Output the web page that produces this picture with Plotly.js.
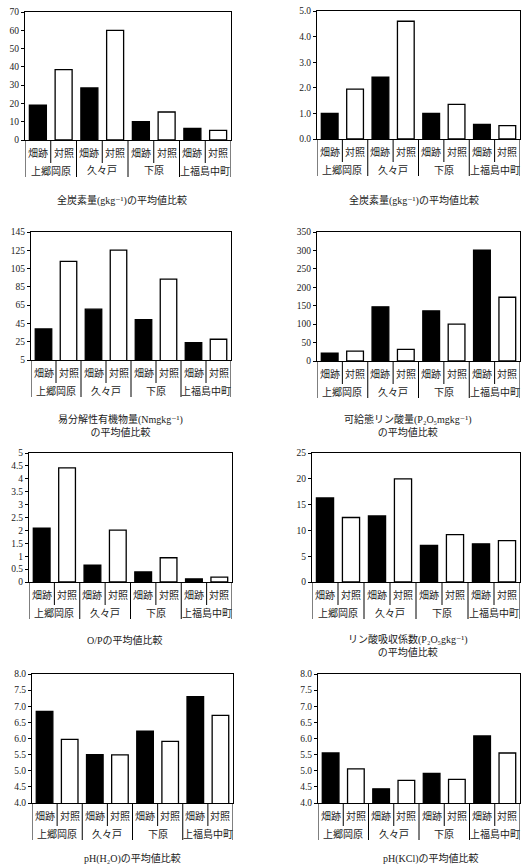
<!DOCTYPE html>
<html><head><meta charset="utf-8">
<script src="https://cdn.plot.ly/plotly-3.0.1.min.js"></script>
<style>html,body{margin:0;padding:0;background:#fff}</style>
</head><body><div id="chart" style="width:521px;height:864px"></div>
<script>
// ---- data ----
const groups = ['上郷岡原', '久々戸', '下原', '上福島中町'];
const subLabels = ['畑跡', '対照'];

const carbonField = [19.0, 28.5, 10.0, 6.3];
const carbonControl = [38.5, 60.0, 15.3, 5.3];

const carbon2Field = [1.0, 2.42, 1.0, 0.57];
const carbon2Control = [1.95, 4.6, 1.35, 0.52];

const organicNField = [39, 60.6, 49.2, 24];
const organicNControl = [112.8, 125.2, 93.4, 27.7];

const availPField = [21, 147, 136, 301];
const availPControl = [27, 31.6, 100, 173];

const opRatioField = [2.09, 0.65, 0.39, 0.12];
const opRatioControl = [4.42, 2.01, 0.94, 0.19];

const pAbsorbField = [16.3, 12.8, 7.1, 7.4];
const pAbsorbControl = [12.5, 20.0, 9.2, 8.0];

const phH2OField = [6.84, 5.50, 6.23, 7.30];
const phH2OControl = [5.97, 5.49, 5.91, 6.72];

const phKClField = [5.55, 4.44, 4.92, 6.08];
const phKClControl = [5.06, 4.70, 4.73, 5.55];

const panelTitles = [
  '全炭素量(gkg⁻¹)の平均値比較',
  '全炭素量(gkg⁻¹)の平均値比較',
  '易分解性有機物量(Nmgkg⁻¹)<br>の平均値比較',
  '可給態リン酸量(P₂O₅mgkg⁻¹)<br>の平均値比較',
  'O/Pの平均値比較',
  'リン酸吸収係数(P₂O₅gkg⁻¹)<br>の平均値比較',
  'pH(H₂O)の平均値比較',
  'pH(KCl)の平均値比較'
];

// ---- layout constants (pixels) ----
const W = 521, H = 864;
const panels = [
  {f: carbonField, c: carbonControl, box: [25, 231, 12, 140], range: [0, 70], tick0: 0, dtick: 10, fmt: '', title: [122, 200]},
  {f: carbon2Field, c: carbon2Control, box: [317, 520, 11, 139], range: [0, 5], tick0: 0, dtick: 1, fmt: '.1f', title: [414, 200]},
  {f: organicNField, c: organicNControl, box: [31, 231, 232, 360], range: [5, 145], tick0: 5, dtick: 20, fmt: '', title: [120, 425]},
  {f: availPField, c: availPControl, box: [317, 520, 232, 361], range: [0, 350], tick0: 0, dtick: 50, fmt: '', title: [407, 425]},
  {f: opRatioField, c: opRatioControl, box: [29, 232, 453, 582], range: [0, 5], tick0: 0, dtick: 0.5, fmt: '', title: [125, 640]},
  {f: pAbsorbField, c: pAbsorbControl, box: [312, 520, 453, 582], range: [0, 25], tick0: 0, dtick: 5, fmt: '', title: [408, 645]},
  {f: phH2OField, c: phH2OControl, box: [32, 233, 674, 803], range: [4, 8], tick0: 4, dtick: 0.5, fmt: '.1f', title: [132, 858]},
  {f: phKClField, c: phKClControl, box: [318, 520, 674, 803], range: [4, 8], tick0: 4, dtick: 0.5, fmt: '.1f', title: [431, 858]}
];

const FONT = 'Liberation Serif, "Noto Sans CJK JP", "DejaVu Serif", serif';
const TXT = '#1a1a1a';
const traces = [], annotations = [], shapes = [];
const layout = {
  width: W, height: H,
  margin: {l: 0, r: 0, t: 0, b: 0},
  paper_bgcolor: '#fff', plot_bgcolor: '#fff',
  showlegend: false, barmode: 'overlay',
  font: {family: FONT, size: 10, color: TXT}
};

const py = v => 1 - v / H;
const px = v => v / W;

panels.forEach((p, k) => {
  const n = k + 1;
  const xa = 'x' + (n === 1 ? '' : n), ya = 'y' + (n === 1 ? '' : n);
  const xk = 'xaxis' + (n === 1 ? '' : n), yk = 'yaxis' + (n === 1 ? '' : n);
  const [l, r, t, b] = p.box;

  // bars: field (black) at even index, control (white) at odd index
  const xs = [], ys = [], cols = [];
  groups.forEach((g, gi) => {
    xs.push(gi * 2); ys.push(p.f[gi]); cols.push('#000');
    xs.push(gi * 2 + 1); ys.push(p.c[gi]); cols.push('#fff');
  });
  traces.push({
    type: 'bar', x: xs, y: ys, xaxis: xa, yaxis: ya, width: 0.66,
    marker: {color: cols, line: {color: '#000', width: 1.3}},
    hoverinfo: 'y'
  });

  layout[xk] = {
    domain: [px(l), px(r)], anchor: ya, range: [-0.5, 7.5],
    showticklabels: false, ticks: '', showgrid: false, zeroline: false,
    showline: true, mirror: true, linecolor: '#000', linewidth: 1, fixedrange: true
  };
  layout[yk] = {
    domain: [py(b), py(t)], anchor: xa, range: p.range,
    tick0: p.tick0, dtick: p.dtick, tickformat: p.fmt,
    ticks: 'outside', ticklen: 3, tickcolor: '#000',
    showgrid: false, zeroline: false,
    showline: true, mirror: true, linecolor: '#000', linewidth: 1,
    tickfont: {family: FONT, size: 9.5, color: TXT}, fixedrange: true
  };

  // category labels
  groups.forEach((g, gi) => {
    subLabels.forEach((s, si) => {
      annotations.push({
        xref: xa, yref: 'paper', x: gi * 2 + si, y: py(b), yshift: -13,
        yanchor: 'middle', xanchor: 'center', showarrow: false, text: s,
        font: {family: FONT, size: 10, color: TXT}
      });
    });
    annotations.push({
      xref: xa, yref: 'paper', x: gi * 2 + 0.5, y: py(b), yshift: -31,
      yanchor: 'middle', xanchor: 'center', showarrow: false, text: g,
      font: {family: FONT, size: 10, color: TXT}
    });
    // inner divider
    shapes.push({type: 'line', xref: xa, yref: 'paper', x0: gi * 2 + 0.5, x1: gi * 2 + 0.5,
      y0: py(b), y1: py(b + 23), line: {color: '#000', width: 1}});
    // group divider (left edge)
    shapes.push({type: 'line', xref: xa, yref: 'paper', x0: gi * 2 - 0.5, x1: gi * 2 - 0.5,
      y0: py(b), y1: py(b + 37), line: {color: '#000', width: 1}});
  });
  shapes.push({type: 'line', xref: xa, yref: 'paper', x0: 7.5, x1: 7.5,
    y0: py(b), y1: py(b + 37), line: {color: '#000', width: 1}});

  // panel caption
  annotations.push({
    xref: 'paper', yref: 'paper', x: px(p.title[0]), y: py(p.title[1]),
    xanchor: 'center', yanchor: 'middle', showarrow: false,
    text: panelTitles[k], font: {family: FONT, size: 10, color: TXT}
  });
});

layout.annotations = annotations;
layout.shapes = shapes;

Plotly.newPlot('chart', traces, layout, {displayModeBar: false, staticPlot: true});
</script>
</body></html>
